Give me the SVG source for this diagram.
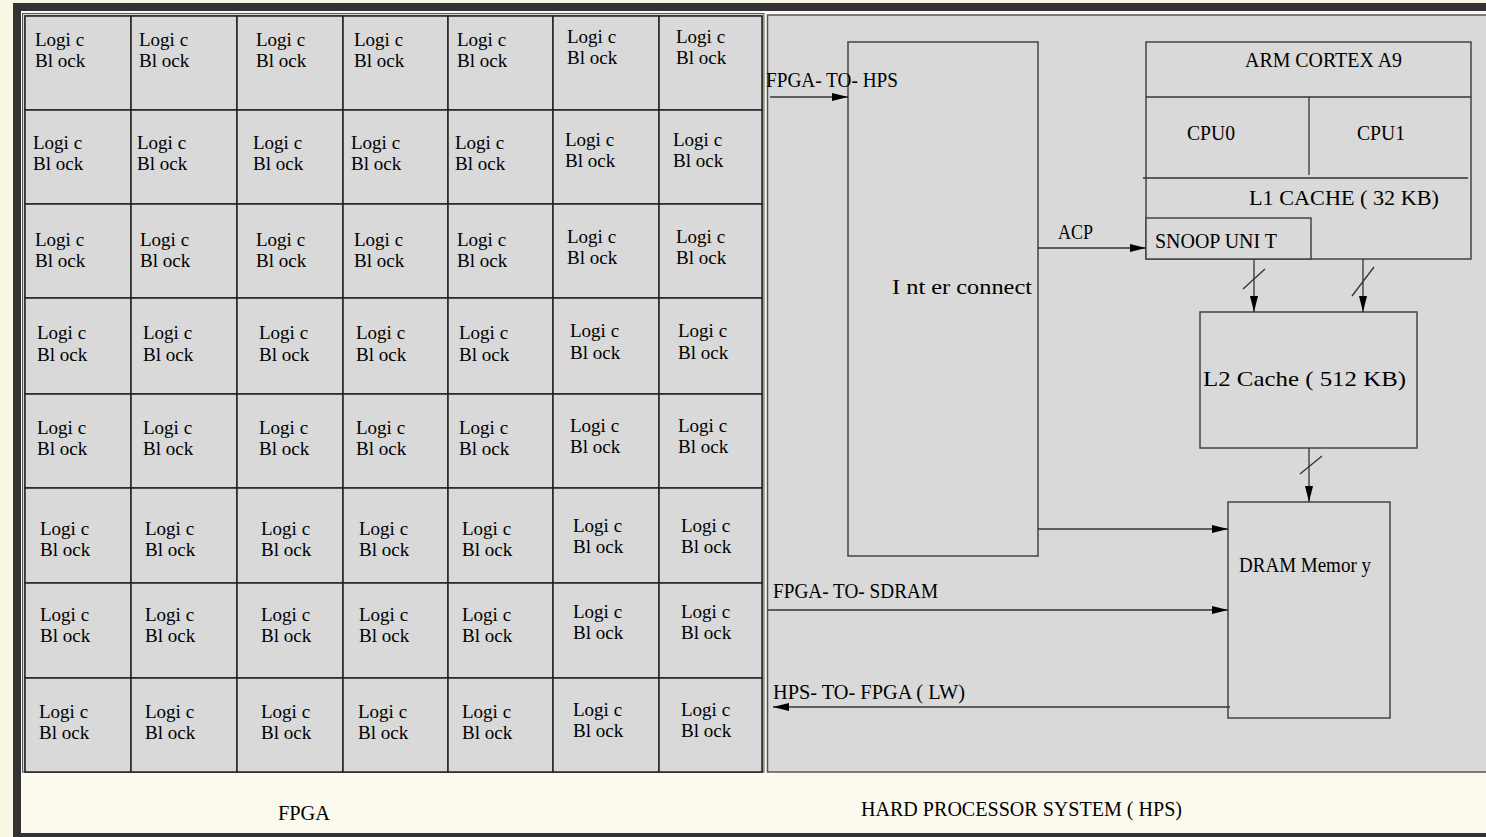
<svg xmlns="http://www.w3.org/2000/svg" width="1486" height="837" viewBox="0 0 1486 837">
<style>
.t{font-family:"Liberation Serif","Times New Roman",serif;font-size:19px;fill:#000}
.h{font-family:"Liberation Serif","Times New Roman",serif;font-size:22px;fill:#000}
.cell{fill:#d9d9d9;stroke:#222;stroke-width:1.5}
.box{fill:#d9d9d9;stroke:#444;stroke-width:1.5}
.ln{fill:none;stroke:#333;stroke-width:1.3}
.arr{fill:none;stroke:#333;stroke-width:1.3;marker-end:url(#ah)}
</style>
<defs>
<marker id="ah" viewBox="0 0 16 8" refX="16" refY="4" markerWidth="16" markerHeight="8" markerUnits="userSpaceOnUse" orient="auto"><path d="M0,0 L16,4 L0,8 z" fill="#000"/></marker>
</defs>
<rect x="0" y="0" width="1486" height="837" fill="#f9f6e6"/>
<rect x="13" y="3" width="1473" height="834" fill="#333"/>
<rect x="21" y="11" width="1465" height="822" fill="#fcfaee"/>
<g id="fpga">
<rect x="22.5" y="13.5" width="741.5" height="758.5" fill="#d9d9d9" stroke="#555" stroke-width="1"/>
<rect x="25" y="16" width="737" height="756" fill="#d9d9d9" stroke="#333" stroke-width="1.2"/>
</g>
<g id="hps">
<rect x="767.5" y="15" width="730" height="757" fill="#d9d9d9" stroke="#555" stroke-width="1.5"/>
</g>
<g id="r1">
<g id="c1-1"><rect class="cell" x="25" y="16" width="106" height="94"/><text class="t" x="35" y="46">Logi c<tspan x="35" dy="21">Bl ock</tspan></text></g>
<g id="c1-2"><rect class="cell" x="131" y="16" width="106" height="94"/><text class="t" x="139" y="46">Logi c<tspan x="139" dy="21">Bl ock</tspan></text></g>
<g id="c1-3"><rect class="cell" x="237" y="16" width="106" height="94"/><text class="t" x="256" y="46">Logi c<tspan x="256" dy="21">Bl ock</tspan></text></g>
<g id="c1-4"><rect class="cell" x="343" y="16" width="105" height="94"/><text class="t" x="354" y="46">Logi c<tspan x="354" dy="21">Bl ock</tspan></text></g>
<g id="c1-5"><rect class="cell" x="448" y="16" width="105" height="94"/><text class="t" x="457" y="46">Logi c<tspan x="457" dy="21">Bl ock</tspan></text></g>
<g id="c1-6"><rect class="cell" x="553" y="16" width="106" height="94"/><text class="t" x="567" y="43">Logi c<tspan x="567" dy="21">Bl ock</tspan></text></g>
<g id="c1-7"><rect class="cell" x="659" y="16" width="103" height="94"/><text class="t" x="676" y="43">Logi c<tspan x="676" dy="21">Bl ock</tspan></text></g>
</g>
<g id="r2">
<g id="c2-1"><rect class="cell" x="25" y="110" width="106" height="94"/><text class="t" x="33" y="149">Logi c<tspan x="33" dy="21">Bl ock</tspan></text></g>
<g id="c2-2"><rect class="cell" x="131" y="110" width="106" height="94"/><text class="t" x="137" y="149">Logi c<tspan x="137" dy="21">Bl ock</tspan></text></g>
<g id="c2-3"><rect class="cell" x="237" y="110" width="106" height="94"/><text class="t" x="253" y="149">Logi c<tspan x="253" dy="21">Bl ock</tspan></text></g>
<g id="c2-4"><rect class="cell" x="343" y="110" width="105" height="94"/><text class="t" x="351" y="149">Logi c<tspan x="351" dy="21">Bl ock</tspan></text></g>
<g id="c2-5"><rect class="cell" x="448" y="110" width="105" height="94"/><text class="t" x="455" y="149">Logi c<tspan x="455" dy="21">Bl ock</tspan></text></g>
<g id="c2-6"><rect class="cell" x="553" y="110" width="106" height="94"/><text class="t" x="565" y="146">Logi c<tspan x="565" dy="21">Bl ock</tspan></text></g>
<g id="c2-7"><rect class="cell" x="659" y="110" width="103" height="94"/><text class="t" x="673" y="146">Logi c<tspan x="673" dy="21">Bl ock</tspan></text></g>
</g>
<g id="r3">
<g id="c3-1"><rect class="cell" x="25" y="204" width="106" height="94"/><text class="t" x="35" y="246">Logi c<tspan x="35" dy="21">Bl ock</tspan></text></g>
<g id="c3-2"><rect class="cell" x="131" y="204" width="106" height="94"/><text class="t" x="140" y="246">Logi c<tspan x="140" dy="21">Bl ock</tspan></text></g>
<g id="c3-3"><rect class="cell" x="237" y="204" width="106" height="94"/><text class="t" x="256" y="246">Logi c<tspan x="256" dy="21">Bl ock</tspan></text></g>
<g id="c3-4"><rect class="cell" x="343" y="204" width="105" height="94"/><text class="t" x="354" y="246">Logi c<tspan x="354" dy="21">Bl ock</tspan></text></g>
<g id="c3-5"><rect class="cell" x="448" y="204" width="105" height="94"/><text class="t" x="457" y="246">Logi c<tspan x="457" dy="21">Bl ock</tspan></text></g>
<g id="c3-6"><rect class="cell" x="553" y="204" width="106" height="94"/><text class="t" x="567" y="243">Logi c<tspan x="567" dy="21">Bl ock</tspan></text></g>
<g id="c3-7"><rect class="cell" x="659" y="204" width="103" height="94"/><text class="t" x="676" y="243">Logi c<tspan x="676" dy="21">Bl ock</tspan></text></g>
</g>
<g id="r4">
<g id="c4-1"><rect class="cell" x="25" y="298" width="106" height="96"/><text class="t" x="37" y="339">Logi c<tspan x="37" dy="22">Bl ock</tspan></text></g>
<g id="c4-2"><rect class="cell" x="131" y="298" width="106" height="96"/><text class="t" x="143" y="339">Logi c<tspan x="143" dy="22">Bl ock</tspan></text></g>
<g id="c4-3"><rect class="cell" x="237" y="298" width="106" height="96"/><text class="t" x="259" y="339">Logi c<tspan x="259" dy="22">Bl ock</tspan></text></g>
<g id="c4-4"><rect class="cell" x="343" y="298" width="105" height="96"/><text class="t" x="356" y="339">Logi c<tspan x="356" dy="22">Bl ock</tspan></text></g>
<g id="c4-5"><rect class="cell" x="448" y="298" width="105" height="96"/><text class="t" x="459" y="339">Logi c<tspan x="459" dy="22">Bl ock</tspan></text></g>
<g id="c4-6"><rect class="cell" x="553" y="298" width="106" height="96"/><text class="t" x="570" y="337">Logi c<tspan x="570" dy="22">Bl ock</tspan></text></g>
<g id="c4-7"><rect class="cell" x="659" y="298" width="103" height="96"/><text class="t" x="678" y="337">Logi c<tspan x="678" dy="22">Bl ock</tspan></text></g>
</g>
<g id="r5">
<g id="c5-1"><rect class="cell" x="25" y="394" width="106" height="94"/><text class="t" x="37" y="434">Logi c<tspan x="37" dy="21">Bl ock</tspan></text></g>
<g id="c5-2"><rect class="cell" x="131" y="394" width="106" height="94"/><text class="t" x="143" y="434">Logi c<tspan x="143" dy="21">Bl ock</tspan></text></g>
<g id="c5-3"><rect class="cell" x="237" y="394" width="106" height="94"/><text class="t" x="259" y="434">Logi c<tspan x="259" dy="21">Bl ock</tspan></text></g>
<g id="c5-4"><rect class="cell" x="343" y="394" width="105" height="94"/><text class="t" x="356" y="434">Logi c<tspan x="356" dy="21">Bl ock</tspan></text></g>
<g id="c5-5"><rect class="cell" x="448" y="394" width="105" height="94"/><text class="t" x="459" y="434">Logi c<tspan x="459" dy="21">Bl ock</tspan></text></g>
<g id="c5-6"><rect class="cell" x="553" y="394" width="106" height="94"/><text class="t" x="570" y="432">Logi c<tspan x="570" dy="21">Bl ock</tspan></text></g>
<g id="c5-7"><rect class="cell" x="659" y="394" width="103" height="94"/><text class="t" x="678" y="432">Logi c<tspan x="678" dy="21">Bl ock</tspan></text></g>
</g>
<g id="r6">
<g id="c6-1"><rect class="cell" x="25" y="488" width="106" height="95"/><text class="t" x="40" y="535">Logi c<tspan x="40" dy="21">Bl ock</tspan></text></g>
<g id="c6-2"><rect class="cell" x="131" y="488" width="106" height="95"/><text class="t" x="145" y="535">Logi c<tspan x="145" dy="21">Bl ock</tspan></text></g>
<g id="c6-3"><rect class="cell" x="237" y="488" width="106" height="95"/><text class="t" x="261" y="535">Logi c<tspan x="261" dy="21">Bl ock</tspan></text></g>
<g id="c6-4"><rect class="cell" x="343" y="488" width="105" height="95"/><text class="t" x="359" y="535">Logi c<tspan x="359" dy="21">Bl ock</tspan></text></g>
<g id="c6-5"><rect class="cell" x="448" y="488" width="105" height="95"/><text class="t" x="462" y="535">Logi c<tspan x="462" dy="21">Bl ock</tspan></text></g>
<g id="c6-6"><rect class="cell" x="553" y="488" width="106" height="95"/><text class="t" x="573" y="532">Logi c<tspan x="573" dy="21">Bl ock</tspan></text></g>
<g id="c6-7"><rect class="cell" x="659" y="488" width="103" height="95"/><text class="t" x="681" y="532">Logi c<tspan x="681" dy="21">Bl ock</tspan></text></g>
</g>
<g id="r7">
<g id="c7-1"><rect class="cell" x="25" y="583" width="106" height="95"/><text class="t" x="40" y="621">Logi c<tspan x="40" dy="21">Bl ock</tspan></text></g>
<g id="c7-2"><rect class="cell" x="131" y="583" width="106" height="95"/><text class="t" x="145" y="621">Logi c<tspan x="145" dy="21">Bl ock</tspan></text></g>
<g id="c7-3"><rect class="cell" x="237" y="583" width="106" height="95"/><text class="t" x="261" y="621">Logi c<tspan x="261" dy="21">Bl ock</tspan></text></g>
<g id="c7-4"><rect class="cell" x="343" y="583" width="105" height="95"/><text class="t" x="359" y="621">Logi c<tspan x="359" dy="21">Bl ock</tspan></text></g>
<g id="c7-5"><rect class="cell" x="448" y="583" width="105" height="95"/><text class="t" x="462" y="621">Logi c<tspan x="462" dy="21">Bl ock</tspan></text></g>
<g id="c7-6"><rect class="cell" x="553" y="583" width="106" height="95"/><text class="t" x="573" y="618">Logi c<tspan x="573" dy="21">Bl ock</tspan></text></g>
<g id="c7-7"><rect class="cell" x="659" y="583" width="103" height="95"/><text class="t" x="681" y="618">Logi c<tspan x="681" dy="21">Bl ock</tspan></text></g>
</g>
<g id="r8">
<g id="c8-1"><rect class="cell" x="25" y="678" width="106" height="94"/><text class="t" x="39" y="718">Logi c<tspan x="39" dy="21">Bl ock</tspan></text></g>
<g id="c8-2"><rect class="cell" x="131" y="678" width="106" height="94"/><text class="t" x="145" y="718">Logi c<tspan x="145" dy="21">Bl ock</tspan></text></g>
<g id="c8-3"><rect class="cell" x="237" y="678" width="106" height="94"/><text class="t" x="261" y="718">Logi c<tspan x="261" dy="21">Bl ock</tspan></text></g>
<g id="c8-4"><rect class="cell" x="343" y="678" width="105" height="94"/><text class="t" x="358" y="718">Logi c<tspan x="358" dy="21">Bl ock</tspan></text></g>
<g id="c8-5"><rect class="cell" x="448" y="678" width="105" height="94"/><text class="t" x="462" y="718">Logi c<tspan x="462" dy="21">Bl ock</tspan></text></g>
<g id="c8-6"><rect class="cell" x="553" y="678" width="106" height="94"/><text class="t" x="573" y="716">Logi c<tspan x="573" dy="21">Bl ock</tspan></text></g>
<g id="c8-7"><rect class="cell" x="659" y="678" width="103" height="94"/><text class="t" x="681" y="716">Logi c<tspan x="681" dy="21">Bl ock</tspan></text></g>
</g>
<g id="interconnect">
<rect class="box" x="848" y="42" width="190" height="514"/>
<text class="h" x="892" y="294" textLength="140" lengthAdjust="spacingAndGlyphs">I nt er connect</text>
</g>
<g id="arm">
<rect class="box" x="1146" y="42" width="325" height="217"/>
<line class="ln" x1="1146" y1="97" x2="1471" y2="97"/>
<line class="ln" x1="1309" y1="97" x2="1309" y2="175"/>
<line class="ln" x1="1143" y1="178" x2="1468" y2="178"/>
<text class="h" x="1245" y="67" textLength="157" lengthAdjust="spacingAndGlyphs">ARM CORTEX A9</text>
<text class="h" x="1187" y="140" textLength="48" lengthAdjust="spacingAndGlyphs">CPU0</text>
<text class="h" x="1357" y="140" textLength="48" lengthAdjust="spacingAndGlyphs">CPU1</text>
<text class="h" x="1249" y="205" textLength="190" lengthAdjust="spacingAndGlyphs">L1 CACHE ( 32 KB)</text>
</g>
<g id="snoop">
<rect class="box" x="1146" y="218" width="165" height="41"/>
<text class="h" x="1155" y="248" textLength="122" lengthAdjust="spacingAndGlyphs">SNOOP UNI T</text>
</g>
<g id="l2">
<rect class="box" x="1200" y="312" width="217" height="136"/>
<text class="h" x="1203" y="386" textLength="203" lengthAdjust="spacingAndGlyphs">L2 Cache ( 512 KB)</text>
</g>
<g id="dram">
<rect class="box" x="1228" y="502" width="162" height="216"/>
<text class="h" x="1239" y="572" textLength="132" lengthAdjust="spacingAndGlyphs">DRAM Memor y</text>
</g>
<g id="connectors">
<path class="arr" d="M770,97 H848"/>
<path class="arr" d="M1038,248 H1146"/>
<path class="arr" d="M1254,259 V312"/>
<path class="arr" d="M1363,259 V312"/>
<path class="arr" d="M1309,448 V502"/>
<path class="arr" d="M1038,529 H1228"/>
<path class="arr" d="M768,610 H1228"/>
<path class="arr" d="M1230,707 H773"/>
<line class="ln" x1="1243" y1="289" x2="1265" y2="269"/>
<line class="ln" x1="1352" y1="296" x2="1374" y2="267"/>
<line class="ln" x1="1300" y1="474" x2="1322" y2="456"/>
<text class="h" x="766" y="87" textLength="132" lengthAdjust="spacingAndGlyphs">FPGA- TO- HPS</text>
<text class="h" x="1058" y="239" textLength="35" lengthAdjust="spacingAndGlyphs">ACP</text>
<text class="h" x="773" y="598" textLength="165" lengthAdjust="spacingAndGlyphs">FPGA- TO- SDRAM</text>
<text class="h" x="773" y="699" textLength="192" lengthAdjust="spacingAndGlyphs">HPS- TO- FPGA ( LW)</text>
</g>
<g id="labels">
<text class="h" x="278" y="820" textLength="52" lengthAdjust="spacingAndGlyphs">FPGA</text>
<text class="h" x="861" y="816" textLength="321" lengthAdjust="spacingAndGlyphs">HARD PROCESSOR SYSTEM ( HPS)</text>
</g>
</svg>
